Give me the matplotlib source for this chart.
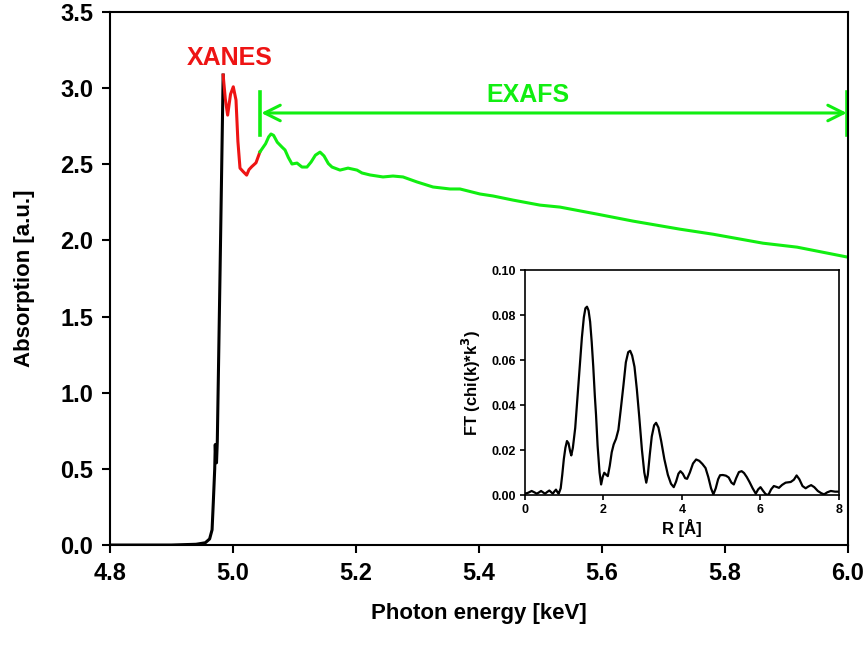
"""XANES / EXAFS absorption spectrum with Fourier-transform inset."""

import matplotlib as mpl
import matplotlib.pyplot as plt

mpl.rcParams.update({
    "font.family": ["Liberation Sans", "DejaVu Sans"],
    "font.weight": "bold",
    "axes.labelweight": "bold",
    "axes.linewidth": 1.5,
})

GREEN = "#11ee11"
RED = "#ee1414"

# --- edge (black) -----------------------------------------------------------
edge_e = [4.80, 4.90, 4.94, 4.955, 4.962, 4.966, 4.968, 4.9703, 4.9712,
          4.9722, 4.9732, 4.9745, 4.9790, 4.9840]
edge_a = [0.0, 0.0, 0.005, 0.015, 0.04, 0.10, 0.28, 0.50, 0.66,
          0.55, 0.54, 0.68, 1.80, 3.086]

# --- XANES region (red) -----------------------------------------------------
xanes_e = [4.9840, 4.9875, 4.9913, 4.9960, 5.0005, 5.0049, 5.0080, 5.0114,
           5.0168, 5.0222, 5.0260, 5.0304, 5.0374, 5.0439]
xanes_a = [3.086, 2.930, 2.823, 2.960, 3.009, 2.922, 2.650, 2.475,
           2.451, 2.429, 2.465, 2.484, 2.510, 2.582]

# --- EXAFS region (green) ---------------------------------------------------
exafs_e = [5.0439, 5.0530, 5.0580, 5.0618, 5.0660, 5.0720, 5.0797, 5.0846,
           5.0900, 5.0959, 5.1041, 5.1122, 5.1203, 5.1270, 5.1340, 5.1415,
           5.1480, 5.1550, 5.1610, 5.1740, 5.1870, 5.2016, 5.2098, 5.2228,
           5.2439, 5.2602, 5.2764, 5.2992, 5.3252, 5.3528, 5.3691, 5.4016,
           5.4228, 5.4553, 5.4992, 5.5317, 5.5919, 5.6504, 5.7268, 5.7805,
           5.8618, 5.9171, 6.0000]
exafs_a = [2.582, 2.635, 2.680, 2.699, 2.690, 2.645, 2.613, 2.594,
           2.545, 2.502, 2.508, 2.482, 2.482, 2.515, 2.560, 2.580,
           2.555, 2.505, 2.482, 2.462, 2.475, 2.462, 2.443, 2.430,
           2.417, 2.423, 2.417, 2.384, 2.351, 2.338, 2.338, 2.305,
           2.292, 2.265, 2.232, 2.219, 2.173, 2.127, 2.074, 2.041,
           1.982, 1.956, 1.890]

# --- inset: FT of chi(k)*k^3 -------------------------------------------------
ft_r = [0.00, 0.08, 0.17, 0.24, 0.30, 0.36, 0.41, 0.46, 0.51, 0.57, 0.62,
        0.67, 0.71, 0.75, 0.79, 0.83, 0.86, 0.91, 0.95, 0.99, 1.03, 1.07,
        1.11, 1.15, 1.18, 1.22, 1.28, 1.34, 1.40, 1.45, 1.50, 1.54, 1.58,
        1.62, 1.66, 1.70, 1.74, 1.78, 1.81, 1.85, 1.90, 1.94, 1.98, 2.02,
        2.07, 2.11, 2.16, 2.21, 2.26, 2.32, 2.38, 2.44, 2.51, 2.57, 2.63,
        2.68, 2.73, 2.79, 2.85, 2.91, 2.98, 3.04, 3.09, 3.13, 3.18, 3.23,
        3.29, 3.34, 3.40, 3.47, 3.55, 3.64, 3.72, 3.79, 3.85, 3.91, 3.96,
        4.02, 4.08, 4.13, 4.20, 4.28, 4.36, 4.44, 4.52, 4.60, 4.67, 4.74,
        4.80, 4.86, 4.92, 4.97, 5.04, 5.12, 5.19, 5.26, 5.32, 5.38, 5.45,
        5.52, 5.58, 5.65, 5.72, 5.80, 5.88, 5.94, 6.00, 6.06, 6.13, 6.20,
        6.27, 6.34, 6.41, 6.47, 6.55, 6.64, 6.77, 6.85, 6.92, 6.99, 7.07,
        7.15, 7.22, 7.29, 7.37, 7.46, 7.55, 7.62, 7.70, 7.79, 7.90, 8.00]
ft_val = [0.0006, 0.0010, 0.0018, 0.0012, 0.0006, 0.0012, 0.0018, 0.0012,
          0.0006, 0.0014, 0.0020, 0.0012, 0.0006, 0.0016, 0.0024, 0.0012,
          0.0006, 0.0030, 0.0090, 0.0160, 0.0210, 0.0240, 0.0230, 0.0195,
          0.0176, 0.0210, 0.0298, 0.0440, 0.0580, 0.0700, 0.0790, 0.0830,
          0.0837, 0.0820, 0.0770, 0.0680, 0.0570, 0.0440, 0.0357, 0.0220,
          0.0100, 0.0047, 0.0080, 0.0099, 0.0090, 0.0084, 0.0130, 0.0190,
          0.0225, 0.0250, 0.0290, 0.0380, 0.0490, 0.0590, 0.0635, 0.0641,
          0.0620, 0.0570, 0.0470, 0.0350, 0.0200, 0.0100, 0.0055, 0.0090,
          0.0180, 0.0260, 0.0310, 0.0321, 0.0300, 0.0240, 0.0160, 0.0090,
          0.0050, 0.0035, 0.0060, 0.0095, 0.0106, 0.0095, 0.0075, 0.0072,
          0.0100, 0.0140, 0.0158, 0.0152, 0.0138, 0.0120, 0.0080, 0.0030,
          0.0003, 0.0030, 0.0070, 0.0088, 0.0089, 0.0086, 0.0078, 0.0055,
          0.0047, 0.0075, 0.0102, 0.0106, 0.0098, 0.0080, 0.0058, 0.0030,
          0.0006, 0.0025, 0.0035, 0.0020, 0.0004, 0.0000, 0.0025, 0.0040,
          0.0036, 0.0032, 0.0045, 0.0055, 0.0058, 0.0068, 0.0087, 0.0070,
          0.0040, 0.0030, 0.0038, 0.0044, 0.0035, 0.0018, 0.0008, 0.0003,
          0.0012, 0.0018, 0.0015, 0.0015]

x_ticks = [4.8, 5.0, 5.2, 5.4, 5.6, 5.8, 6.0]
y_ticks = [0.0, 0.5, 1.0, 1.5, 2.0, 2.5, 3.0, 3.5]
ins_x_ticks = [0, 2, 4, 6, 8]
ins_y_ticks = [0.00, 0.02, 0.04, 0.06, 0.08, 0.10]

exafs_start, exafs_end, arrow_y = 5.044, 6.0, 2.837

fig = plt.figure(figsize=(8.68, 6.46), dpi=100)
ax = fig.add_axes([0.1267, 0.1563, 0.8503, 0.8251])

ax.plot(edge_e, edge_a, color="black", lw=2.2, solid_joinstyle="round")
ax.plot(xanes_e, xanes_a, color=RED, lw=2.2, solid_joinstyle="round")
ax.plot(exafs_e, exafs_a, color=GREEN, lw=2.2, solid_joinstyle="round")

ax.set_xlim(4.8, 6.0)
ax.set_ylim(0, 3.5)
ax.set_xticks(x_ticks)
ax.set_yticks(y_ticks)
ax.set_xticklabels([f"{v:.1f}" for v in x_ticks])
ax.set_yticklabels([f"{v:.1f}" for v in y_ticks])
ax.tick_params(direction="out", length=6, width=1.5, labelsize=17, pad=6)
ax.set_xlabel("Photon energy [keV]", fontsize=16, labelpad=13)
ax.set_ylabel("Absorption [a.u.]", fontsize=16, labelpad=18)

# annotations
ax.text(4.995, 3.195, "XANES", color=RED, fontsize=18, fontweight="bold",
        ha="center", va="center")
ax.text(5.48, 2.955, "EXAFS", color=GREEN, fontsize=18, fontweight="bold",
        ha="center", va="center")
ax.annotate("", xy=(exafs_end - 0.002, arrow_y), xytext=(exafs_start + 0.002, arrow_y),
            arrowprops=dict(arrowstyle="<->", color=GREEN, lw=2.2,
                            mutation_scale=28, shrinkA=0, shrinkB=0))
for xb in (exafs_start, exafs_end - 0.002):
    ax.plot([xb, xb], [2.69, 2.975], color=GREEN, lw=2.6, clip_on=False)

# inset
ins = fig.add_axes([0.6048, 0.2337, 0.3618, 0.3483])
ins.plot(ft_r, ft_val, color="black", lw=1.6, solid_joinstyle="round")
ins.set_xlim(0, 8)
ins.set_ylim(0, 0.10)
ins.set_xticks(ins_x_ticks)
ins.set_yticks(ins_y_ticks)
ins.set_yticklabels([f"{v:.2f}" for v in ins_y_ticks])
ins.tick_params(direction="out", length=3.5, width=1.2, labelsize=9, pad=3)
for s in ins.spines.values():
    s.set_linewidth(1.2)
ins.set_xlabel("R [Å]", fontsize=12, labelpad=2)
ins.set_ylabel("FT (chi(k)*k$^\\mathbf{3}$)", fontsize=12, labelpad=6)

fig.savefig("out.png", dpi=100)
